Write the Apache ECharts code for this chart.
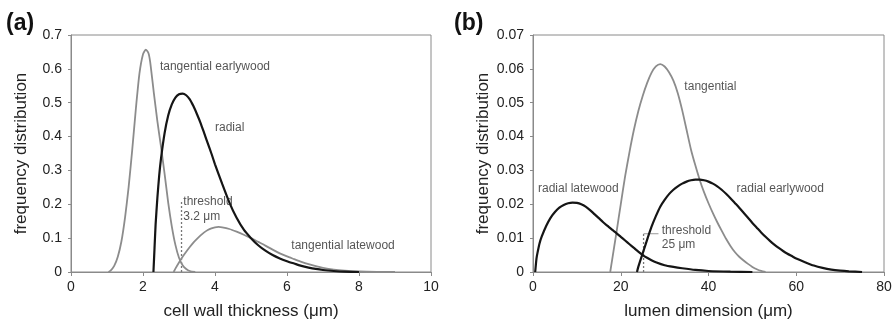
<!DOCTYPE html>
<html>
<head>
<meta charset="utf-8">
<script src="https://cdn.jsdelivr.net/npm/echarts@6/dist/echarts.min.js"></script>
<style>
html,body{margin:0;padding:0;background:#fff;}
#c{width:895px;height:329px;}
</style>
</head>
<body>
<div id="c"></div>
<script>
// ---------- Panel (a): cell wall thickness ----------
const xTicksA = [0, 2, 4, 6, 8, 10];
const yLabelsA = ['0', '0.1', '0.2', '0.3', '0.4', '0.5', '0.6', '0.7'];
const tanEarlyA = [[1.04,0],[1.1,0.004],[1.2,0.018],[1.3,0.045],[1.4,0.09],[1.5,0.16],[1.6,0.25],[1.7,0.36],[1.8,0.48],[1.9,0.585],[2.0,0.643],[2.08,0.657],[2.15,0.647],[2.2,0.62],[2.3,0.53],[2.4,0.445],[2.5,0.37],[2.6,0.29],[2.7,0.205],[2.8,0.135],[2.9,0.08],[3.0,0.042],[3.1,0.02],[3.2,0.009],[3.3,0.003],[3.45,0]];
const radialA = [[2.29,0],[2.32,0.07],[2.35,0.14],[2.4,0.22],[2.45,0.285],[2.5,0.335],[2.6,0.41],[2.7,0.462],[2.8,0.495],[2.9,0.515],[3.0,0.525],[3.1,0.527],[3.2,0.522],[3.3,0.51],[3.4,0.49],[3.5,0.466],[3.6,0.44],[3.7,0.41],[3.8,0.38],[3.9,0.35],[4.0,0.318],[4.2,0.26],[4.4,0.205],[4.6,0.16],[4.8,0.125],[5.0,0.1],[5.2,0.079],[5.4,0.063],[5.6,0.05],[5.8,0.04],[6.0,0.032],[6.2,0.025],[6.4,0.018],[6.6,0.013],[6.8,0.009],[7.0,0.006],[7.3,0.003],[7.6,0.001],[8.0,0]];
const tanLateA = [[2.85,0],[2.9,0.01],[3.0,0.028],[3.1,0.045],[3.2,0.06],[3.3,0.074],[3.4,0.087],[3.5,0.098],[3.6,0.108],[3.7,0.117],[3.8,0.124],[3.9,0.129],[4.0,0.132],[4.1,0.133],[4.2,0.132],[4.4,0.127],[4.6,0.119],[4.8,0.11],[5.0,0.1],[5.2,0.089],[5.4,0.078],[5.6,0.066],[5.8,0.055],[6.0,0.046],[6.2,0.038],[6.4,0.03],[6.6,0.023],[6.8,0.017],[7.0,0.012],[7.3,0.007],[7.6,0.004],[8.0,0.0015],[8.5,0.0003],[9.0,0]];
const thresholdA = [[3.07,0],[3.07,0.21]];
const notesA = [[2.47,0.605,'tangential earlywood'],[4.0,0.425,'radial'],[6.12,0.079,'tangential latewood'],[3.12,0.209,'threshold'],[3.12,0.162,'3.2 \u03bcm']];

// ---------- Panel (b): lumen dimension ----------
const xTicksB = [0, 20, 40, 60, 80];
const yLabelsB = ['0', '0.01', '0.02', '0.03', '0.04', '0.05', '0.06', '0.07'];
const radLateB = [[0.5,0],[0.8,0.004],[1,0.0055],[1.5,0.0085],[2,0.0105],[3,0.0136],[4,0.016],[5,0.0177],[6,0.019],[7,0.0198],[8,0.0203],[9,0.0205],[10,0.0204],[11,0.02],[12,0.0193],[13,0.0183],[14,0.0171],[15,0.0159],[16,0.0147],[17,0.0136],[18,0.0125],[19,0.0115],[20,0.0104],[21,0.0093],[22,0.0082],[23,0.0071],[24,0.006],[25,0.005],[26,0.0042],[27,0.0035],[28,0.0029],[30,0.002],[32,0.0015],[34,0.0011],[37,0.0006],[40,0.0003],[45,0.0001],[50,0]];
const tanB = [[17.6,0],[18,0.0033],[19,0.0115],[20,0.02],[21,0.0283],[22,0.0355],[23,0.042],[24,0.0475],[25,0.052],[26,0.0558],[27,0.0588],[28,0.0607],[29,0.0614],[30,0.0607],[31,0.059],[32,0.0565],[33,0.0528],[34,0.0478],[35,0.042],[36,0.0362],[37,0.0315],[38,0.0272],[39,0.0235],[40,0.0203],[41,0.0174],[42,0.0147],[43,0.0122],[44,0.0098],[45,0.0077],[46,0.0059],[47,0.0045],[48,0.0034],[49,0.0024],[50,0.0015],[51,0.0008],[52,0.0003],[53,0]];
const radEarlyB = [[23.7,0],[24,0.0015],[25,0.0055],[26,0.0095],[27,0.0133],[28,0.0165],[29,0.0193],[30,0.0213],[31,0.023],[32,0.0243],[33,0.0253],[34,0.0261],[35,0.0267],[36,0.0271],[37,0.0273],[38,0.0273],[39,0.0271],[40,0.0267],[41,0.0261],[42,0.0253],[43,0.0243],[44,0.0231],[45,0.0218],[46,0.0204],[47,0.019],[48,0.0175],[49,0.016],[50,0.0145],[51,0.0131],[52,0.0117],[53,0.0104],[54,0.0092],[55,0.0081],[56,0.0071],[57,0.0062],[58,0.0054],[59,0.0047],[60,0.004],[62,0.0029],[64,0.0019],[66,0.0012],[68,0.0007],[70,0.0004],[72,0.0002],[75,0]];
const thresholdB = [[25.2,0],[25.2,0.0113]];
const bracketB = [[25.2,0.0113],[28.6,0.0113]];
const notesB = [[34.5,0.0547,'tangential'],[1.14,0.0245,'radial latewood'],[46.4,0.0245,'radial earlywood'],[29.35,0.0123,'threshold'],[29.35,0.0082,'25 \u03bcm']];

const FONT = 'Liberation Sans, Arial, Helvetica, sans-serif';
const GRAY = '#8c8c8c';
const BLACK = '#151515';
const AXIS = '#8a8a8a';

function xAxis(gi, ticks, name) {
  return {
    type: 'value', gridIndex: gi,
    min: ticks[0], max: ticks[ticks.length - 1], interval: ticks[1] - ticks[0],
    name: name, nameLocation: 'middle', nameGap: 31,
    nameTextStyle: {fontFamily: FONT, fontSize: 17, color: '#222'},
    axisLine: {show: true, lineStyle: {color: AXIS, width: 1}},
    axisTick: {show: true, length: 4, lineStyle: {color: AXIS}},
    axisLabel: {fontFamily: FONT, fontSize: 14, color: '#222', margin: 8},
    splitLine: {show: false}
  };
}
function yAxis(gi, labels, step, name) {
  return {
    type: 'value', gridIndex: gi,
    min: 0, max: step * (labels.length - 1), interval: step,
    name: name, nameLocation: 'middle', nameGap: 41,
    nameTextStyle: {fontFamily: FONT, fontSize: 17, color: '#222'},
    axisLine: {show: true, lineStyle: {color: AXIS, width: 1}},
    axisTick: {show: true, length: 3, lineStyle: {color: AXIS}},
    axisLabel: {fontFamily: FONT, fontSize: 14, color: '#222', margin: 9,
      formatter: function (v, i) { return labels[i] !== undefined ? labels[i] : ''; }},
    splitLine: {show: false}
  };
}
function curve(gi, data, color, width, z) {
  return {
    type: 'line', xAxisIndex: gi, yAxisIndex: gi, data: data,
    showSymbol: false, symbol: 'none', smooth: 0.2,
    lineStyle: {color: color, width: width}, z: z, silent: true
  };
}
function notes(gi, data) {
  return {
    type: 'scatter', xAxisIndex: gi, yAxisIndex: gi, symbolSize: 0, silent: true, z: 10,
    data: data.map(d => ({value: [d[0], d[1]], name: d[2]})),
    label: {show: true, position: [0, 0], align: 'left', verticalAlign: 'middle',
      formatter: p => p.name, fontFamily: FONT, fontSize: 12, color: '#2a2a2a'}
  };
}

const chart = echarts.init(document.getElementById('c'), null, {renderer: 'canvas'});
chart.setOption({
  animation: false,
  backgroundColor: '#fff',
  title: [
    {text: '(a)', left: 1, top: 7, textStyle: {fontFamily: FONT, fontSize: 23, fontWeight: 'bold', color: '#111'}},
    {text: '(b)', left: 449, top: 7, textStyle: {fontFamily: FONT, fontSize: 23, fontWeight: 'bold', color: '#111'}}
  ],
  grid: [
    {left: 71, top: 35, width: 360, height: 237, show: true, borderColor: AXIS, borderWidth: 1},
    {left: 533, top: 35, width: 351, height: 237, show: true, borderColor: AXIS, borderWidth: 1}
  ],
  xAxis: [xAxis(0, xTicksA, 'cell wall thickness (\u03bcm)'), xAxis(1, xTicksB, 'lumen dimension (\u03bcm)')],
  yAxis: [yAxis(0, yLabelsA, 0.1, 'frequency distribution'), yAxis(1, yLabelsB, 0.01, 'frequency distribution')],
  series: [
    curve(0, tanEarlyA, GRAY, 1.8, 2),
    curve(0, tanLateA, GRAY, 1.8, 2),
    curve(0, radialA, BLACK, 2.2, 3),
    {type: 'line', xAxisIndex: 0, yAxisIndex: 0, data: thresholdA, symbol: 'none', silent: true,
      lineStyle: {color: '#777', width: 1.3, type: [2, 2]}, z: 1},
    notes(0, notesA),
    curve(1, radLateB, BLACK, 2.2, 3),
    curve(1, tanB, GRAY, 1.8, 2),
    curve(1, radEarlyB, BLACK, 2.2, 3),
    {type: 'line', xAxisIndex: 1, yAxisIndex: 1, data: thresholdB, symbol: 'none', silent: true,
      lineStyle: {color: '#777', width: 1.3, type: [2, 2]}, z: 1},
    {type: 'line', xAxisIndex: 1, yAxisIndex: 1, data: bracketB, symbol: 'none', silent: true,
      lineStyle: {color: '#999', width: 1}, z: 1},
    notes(1, notesB)
  ]
});
</script>
</body>
</html>
